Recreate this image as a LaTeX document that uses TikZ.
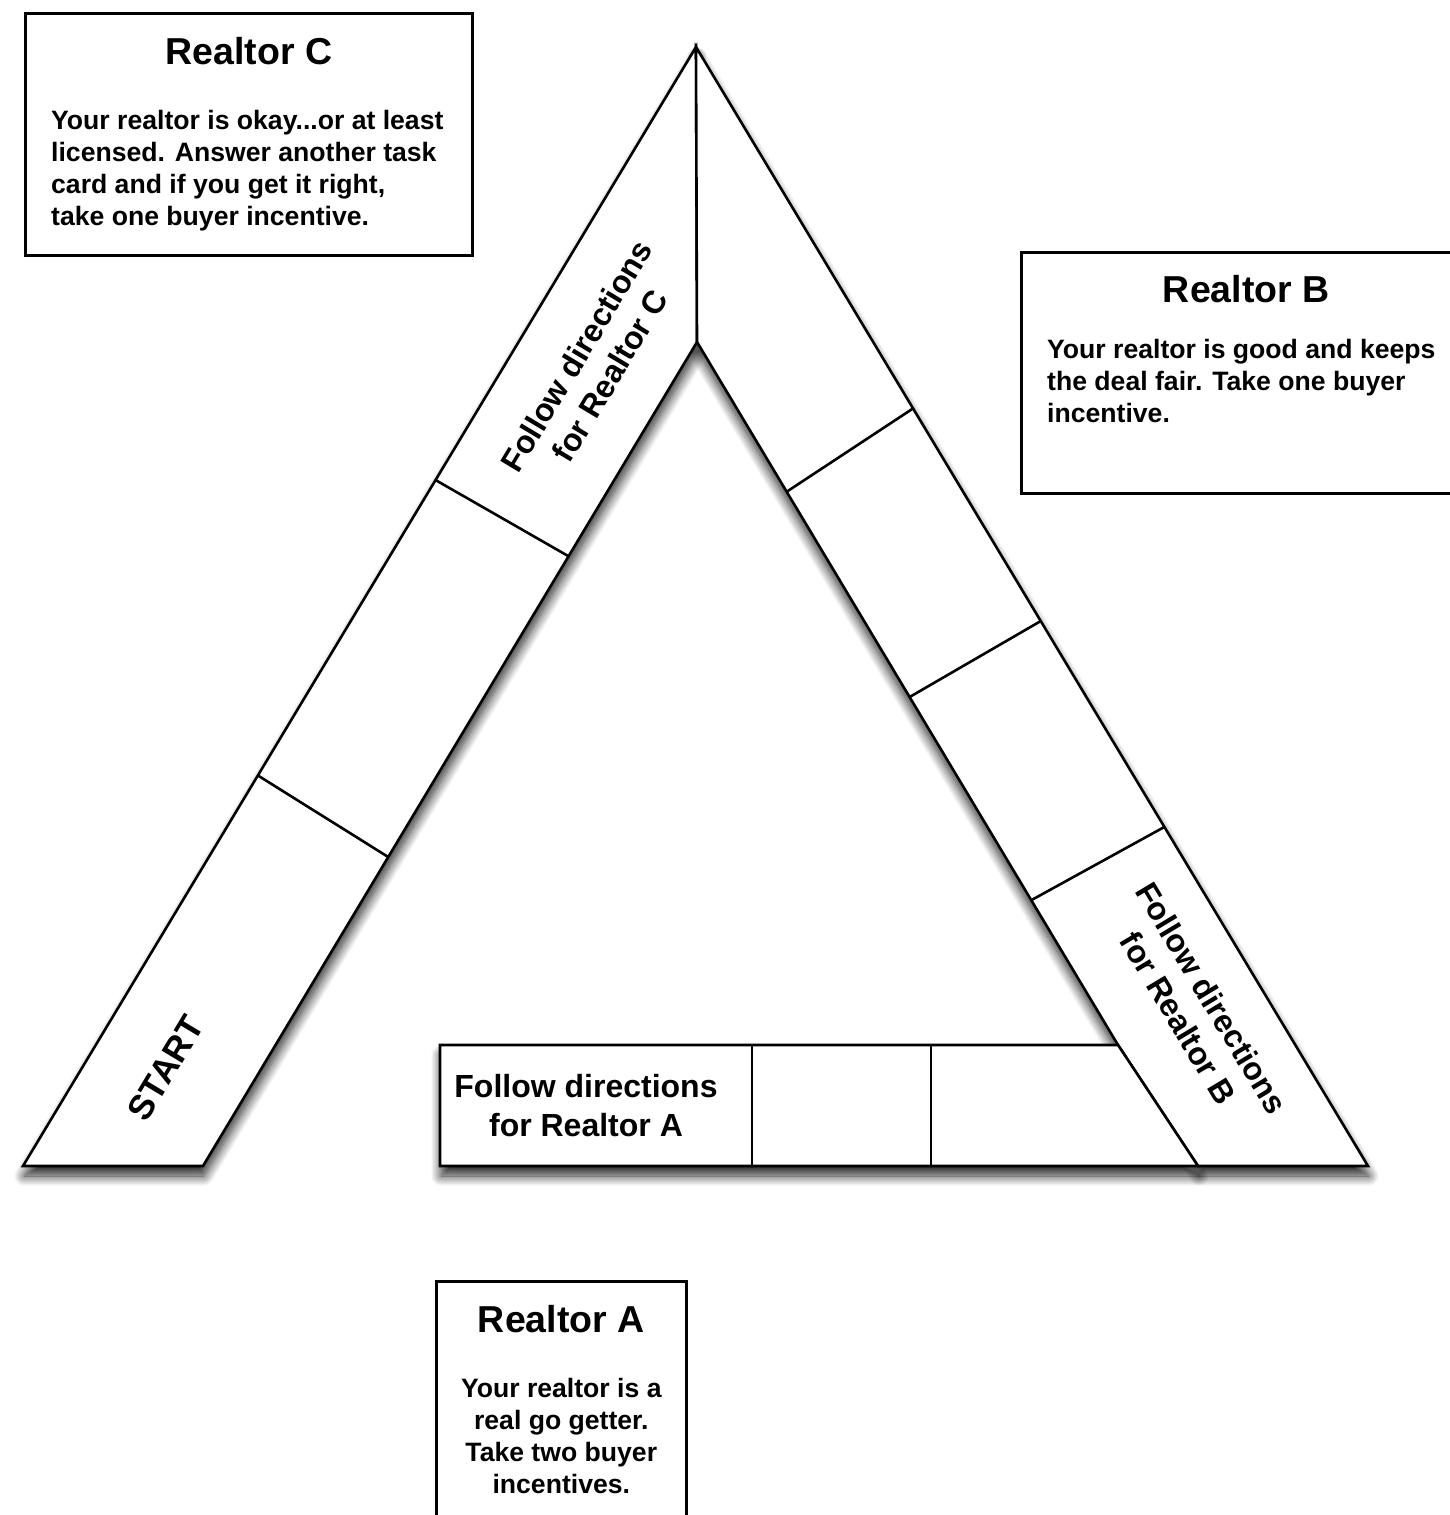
\documentclass[tikz,border=0pt]{standalone}
\usepackage{fontspec}
\setmainfont{Liberation Sans}
\usetikzlibrary{calc,positioning,shadows.blur}
\tikzset{
    card-box/.style = {draw=black, fill=white, line width=2.6pt, rectangle, inner sep=0pt},
    card-title/.style = {font=\fontsize{37.5}{44}\selectfont\bfseries, inner sep=0pt},
    card-text/.style = {font=\fontsize{26.6}{32}\selectfont\bfseries, inner sep=0pt},
    board-shadow/.style = {fill=white, blur shadow={shadow xshift=1pt, shadow yshift=-10pt, shadow blur radius=10pt, shadow blur steps=14, shadow opacity=85}},
    board-piece/.style = {draw=black, fill=white, line width=2.6pt},
    board-line/.style = {draw=black, line width=2.6pt},
    board-label/.style = {font=\fontsize{32}{39}\selectfont\bfseries, align=center, inner sep=0pt},
}

\begin{document}
\begin{tikzpicture}[x=1pt, y=-1pt]
\path[use as bounding box, clip] (0,0) rectangle (1450,1515);

% corners of the board
\coordinate (top) at (696,47);
\coordinate (inner) at (697,342);
\coordinate (startL) at (23,1166);
\coordinate (startR) at (203,1166);
\coordinate (endR) at (1368,1166);
\coordinate (endL) at (1198,1166);
\coordinate (stripNE) at (1118,1045);
\coordinate (stripNW) at (440,1045);
\coordinate (stripSW) at (440,1166);

% shadows first, then the pieces
\foreach \pass in {board-shadow, board-piece} {
    \path[\pass] (startL) -- (top) -- (inner) -- (startR) -- cycle;
    \path[\pass] (top) -- (endR) -- (endL) -- (stripNE) -- (inner) -- cycle;
    \path[\pass] (stripNW) -- (stripNE) -- (endL) -- (stripSW) -- cycle;
}

% squares
\draw[board-line] ($(startL)!0.349!(top)$) -- ($(startR)!0.375!(inner)$);
\draw[board-line] ($(startL)!0.613!(top)$) -- ($(startR)!0.740!(inner)$);
\draw[board-line] ($(inner)!0.213!(stripNE)$) -- ($(top)!0.323!(endR)$);
\draw[board-line] ($(inner)!0.505!(stripNE)$) -- ($(top)!0.513!(endR)$);
\draw[board-line] ($(inner)!0.794!(stripNE)$) -- ($(top)!0.697!(endR)$);
\foreach \x in {752,931}
    \draw[board-line] (\x,1045) -- (\x,1166);

\node[board-label, font=\fontsize{35}{40}\selectfont\bfseries, rotate=59] (start) at (166,1068) {START};
\node[board-label, rotate=59] (labelC) at (593,366) {Follow directions\\for Realtor C};
\node[board-label, rotate=-59] (labelB) at (1195,1008) {Follow directions\\for Realtor B};
\node[board-label] (labelA) at (586,1106) {Follow directions\\for Realtor A};

% realtor cards
\node[card-box, minimum width=447pt, minimum height=242pt, anchor=north west] (cardC) at (24,12) {};
\node[card-title, below=25pt of cardC.north] (titleC) {Realtor C};
\node[card-text, align=left, below right=98pt and 27pt of cardC.north west] (textC) {Your realtor is okay...or at least\\licensed. Answer another task\\card and if you get it right,\\take one buyer incentive.};

\node[card-box, minimum width=450pt, minimum height=241pt, anchor=north west] (cardB) at (1020,251) {};
\node[card-title, below=24pt of cardB.north] (titleB) {Realtor B};
\node[card-text, align=left, below right=88pt and 27pt of cardB.north west] (textB) {Your realtor is good and keeps\\the deal fair. Take one buyer\\incentive.};

\node[card-box, minimum width=250pt, minimum height=260pt, anchor=north west] (cardA) at (435,1280) {};
\node[card-title, below=25pt of cardA.north] (titleA) {Realtor A};
\node[card-text, align=center, below=98pt of cardA.north] (textA) {Your realtor is a\\real go getter.\\Take two buyer\\incentives.};
\end{tikzpicture}
\end{document}
